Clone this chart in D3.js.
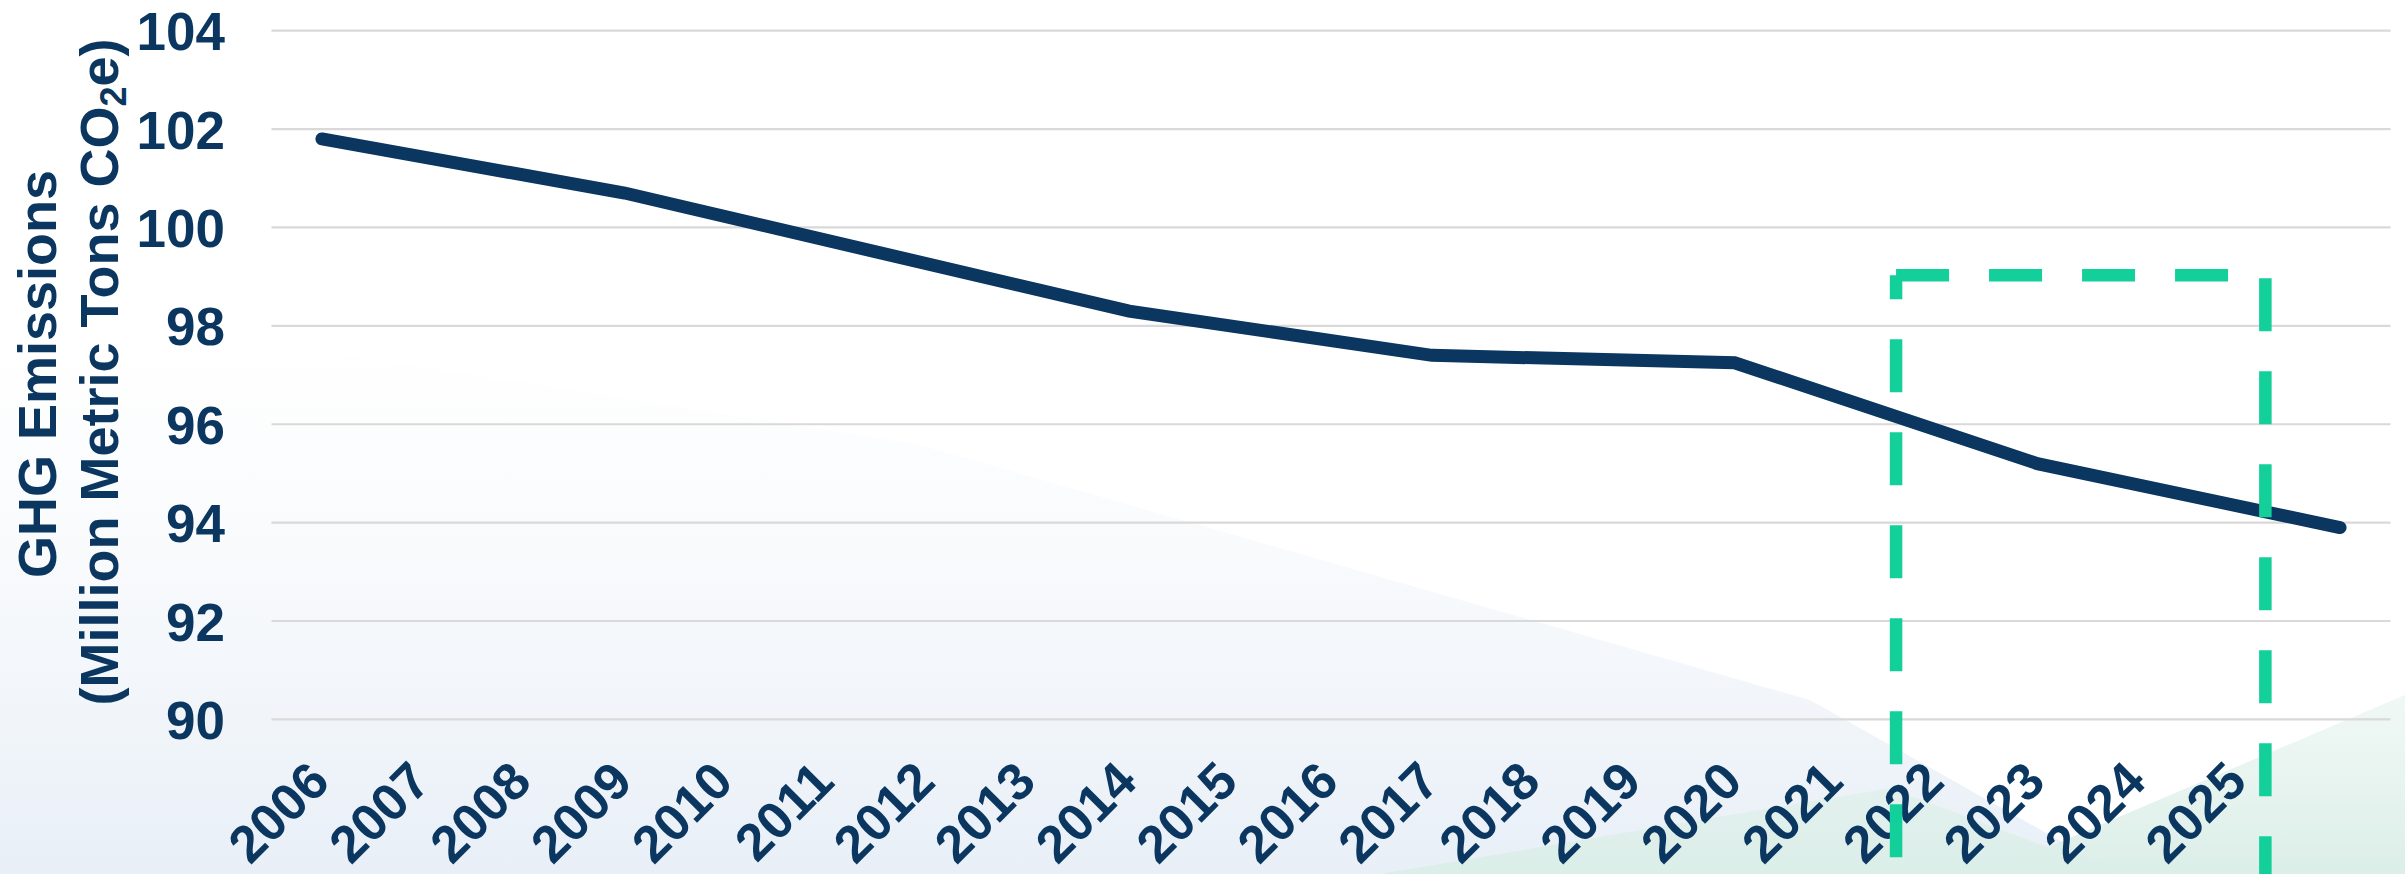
<!DOCTYPE html>
<html>
<head>
<meta charset="utf-8">
<script src="https://cdn.jsdelivr.net/npm/d3@7"></script>
<style>
  html, body { margin: 0; padding: 0; background: #ffffff; }
  svg { display: block; }
</style>
</head>
<body>
<svg id="chart" width="2405" height="874"></svg>
<script>
// ---------------- data ----------------
const categories = ["2006","2007","2008","2009","2010","2011","2012","2013","2014","2015",
                    "2016","2017","2018","2019","2020","2021","2022","2023","2024","2025","2026"];
const tickLabels = ["2006","2007","2008","2009","2010","2011","2012","2013","2014","2015",
                    "2016","2017","2018","2019","2020","2021","2022","2023","2024","2025"];
const pointYears  = ["2006","2009","2014","2017","2020","2023","2026"];
const pointValues = [101.8, 100.7, 98.3, 97.4, 97.25, 95.2, 93.9];
const yTicks = [90, 92, 94, 96, 98, 100, 102, 104];
const yTitleLine1 = "GHG Emissions";
const yTitleLine2 = ["(Million Metric Tons CO", "2", "e)"];
// highlighted period (dashed box), in data units
const highlightFrom = 2021.6, highlightTo = 2025.26, highlightTop = 99.03;

// ---------------- layout ----------------
const W = 2405, H = 874;
const plotLeft = 271.5, plotRight = 2390.5, plotTop = 30.7, plotBottom = 719.4;
const navy = "#0a365f";
const green = "#13cf9a";
const font = "'Liberation Sans', Arial, Helvetica, sans-serif";

const svg = d3.select("#chart");

// ---------------- background ----------------
const defs = svg.append("defs");
const gBlue = defs.append("linearGradient").attr("id","gBlue")
  .attr("gradientUnits","userSpaceOnUse").attr("x1",0).attr("y1",330).attr("x2",0).attr("y2",874);
gBlue.append("stop").attr("offset",0).attr("stop-color","#f3f6fa").attr("stop-opacity",0);
gBlue.append("stop").attr("offset",1).attr("stop-color","#e8eff7").attr("stop-opacity",1);
const gMint = defs.append("linearGradient").attr("id","gMint")
  .attr("gradientUnits","userSpaceOnUse").attr("x1",0).attr("y1",700).attr("x2",0).attr("y2",874);
gMint.append("stop").attr("offset",0).attr("stop-color","#e6f3ef").attr("stop-opacity",0.6);
gMint.append("stop").attr("offset",1).attr("stop-color","#dbeee8").attr("stop-opacity",1);

svg.append("rect").attr("width",W).attr("height",H).attr("fill","#ffffff");
svg.append("polygon")
  .attr("points","0,300 920,445 1810,700 2119,874 0,874")
  .attr("fill","url(#gBlue)");
svg.append("polygon")
  .attr("points","1380,874 1890,788 2119,874")
  .attr("fill","url(#gMint)");
svg.append("polygon")
  .attr("points","1985,874 2405,695 2405,874")
  .attr("fill","url(#gMint)");

// ---------------- scales ----------------
const xBand = d3.scaleBand().domain(categories).range([plotLeft, plotRight]).padding(0);
const xc = c => xBand(c) + xBand.bandwidth() / 2;
const xYear = yr => xc("2006") + (yr - 2006) * xBand.step();
const y = d3.scaleLinear().domain([90, 104]).range([plotBottom, plotTop]);

// ---------------- gridlines ----------------
svg.append("g").selectAll("line").data(yTicks).join("line")
  .attr("x1", plotLeft).attr("x2", plotRight)
  .attr("y1", d => y(d)).attr("y2", d => y(d))
  .attr("stroke", "#d9d9d9").attr("stroke-width", 2.2);

// ---------------- y axis labels ----------------
const yAxis = d3.axisLeft(y).tickValues(yTicks).tickSize(0).tickPadding(0);
const gy = svg.append("g").attr("transform", "translate(225,0)").call(yAxis);
gy.select(".domain").remove();
gy.selectAll("text")
  .attr("fill", navy).attr("font-family", font).attr("font-weight", "bold")
  .attr("font-size", 53).attr("dy", "0.36em").attr("x", 0);

// ---------------- x axis labels ----------------
const xAxis = d3.axisBottom(xBand).tickValues(tickLabels).tickSize(0).tickPadding(0);
const gx = svg.append("g").attr("transform", "translate(0,0)").call(xAxis);
gx.select(".domain").remove();
gx.selectAll(".tick text")
  .attr("fill", navy).attr("font-family", font).attr("font-weight", "bold")
  .attr("font-size", 52)
  .attr("text-anchor", "end")
  .attr("y", 0).attr("dy", 0)
  .attr("transform", "translate(10,784) rotate(-45)");

// ---------------- y title ----------------
svg.append("text")
  .attr("transform", "translate(56,374) rotate(-90)")
  .attr("text-anchor", "middle")
  .attr("fill", navy).attr("font-family", font).attr("font-weight", "bold").attr("font-size", 54)
  .text(yTitleLine1);
const t2 = svg.append("text")
  .attr("transform", "translate(118,372) rotate(-90)")
  .attr("text-anchor", "middle")
  .attr("fill", navy).attr("font-family", font).attr("font-weight", "bold").attr("font-size", 54);
t2.append("tspan").text(yTitleLine2[0]);
t2.append("tspan").attr("font-size", 36).attr("dy", 8).text(yTitleLine2[1]);
t2.append("tspan").attr("dy", -8).text(yTitleLine2[2]);

// ---------------- line ----------------
const pts = pointYears.map((c, i) => [xc(c), y(pointValues[i])]);
svg.append("path")
  .attr("d", d3.line()(pts))
  .attr("fill", "none").attr("stroke", navy).attr("stroke-width", 13)
  .attr("stroke-linecap", "round").attr("stroke-linejoin", "miter");

// ---------------- dashed highlight box ----------------
const bx0 = xYear(highlightFrom), bx1 = xYear(highlightTo), by0 = y(highlightTop);
const dash = "53,40";
const box = svg.append("g").attr("stroke", green).attr("stroke-width", 12.5).attr("fill", "none");
box.append("line").attr("x1", bx0).attr("y1", by0).attr("x2", bx1).attr("y2", by0)
  .attr("stroke-dasharray", dash);
box.append("line").attr("x1", bx1).attr("y1", by0).attr("x2", bx1).attr("y2", H + 60)
  .attr("stroke-dasharray", dash).attr("stroke-dashoffset", -3);
box.append("line").attr("x1", bx0).attr("y1", by0).attr("x2", bx0).attr("y2", H + 60)
  .attr("stroke-dasharray", dash).attr("stroke-dashoffset", 29);
</script>
</body>
</html>
